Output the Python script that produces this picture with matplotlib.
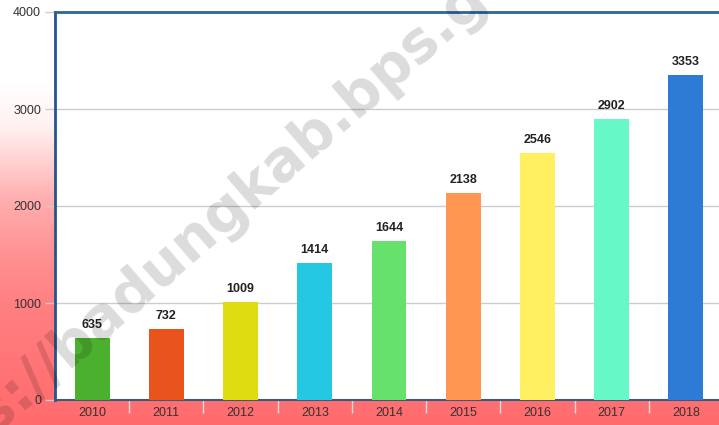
import numpy as np
import matplotlib
matplotlib.use("Agg")
import matplotlib.pyplot as plt

years = ["2010", "2011", "2012", "2013", "2014", "2015", "2016", "2017", "2018"]
values = [635, 732, 1009, 1414, 1644, 2138, 2546, 2902, 3353]
bar_colors = ["#4cb02f", "#e8541c", "#dddd12", "#24c8e2", "#66e26c",
              "#ff9652", "#fff062", "#66f8c6", "#2e7bd6"]
yticks = [0, 1000, 2000, 3000, 4000]
watermark = "s://badungkab.bps.go.id"

W, H = 719, 425
fig = plt.figure(figsize=(W / 100, H / 100), dpi=100)
plt.rcParams['font.family'] = ['Liberation Sans', 'DejaVu Sans']

# background gradient
bg = fig.add_axes([0, 0, 1, 1])
ys = np.linspace(0, 1, 425)  # 0 top, 1 bottom
frac = np.interp(ys, [0.0, 0.2, 0.3, 0.47, 0.6, 0.72, 0.9, 1.0],
                 [0.0, 0.0, 0.1, 0.55, 0.75, 0.87, 0.96, 1.0])
top = np.array([1.0, 1.0, 1.0])
bot = np.array([255, 108, 110]) / 255
img = top[None, :] * (1 - frac[:, None]) + bot[None, :] * frac[:, None]
img = np.repeat(img[:, None, :], 2, axis=1)
bg.imshow(img, aspect='auto', extent=[0, 1, 0, 1], origin='upper')
bg.set_axis_off()

# plot area in pixel coords
left, right, topp, bottom = 55, 723, 12, 400
ax = fig.add_axes([left / W, (H - bottom) / H, (right - left) / W, (bottom - topp) / H])
ax.set_facecolor("white")
x = np.arange(len(years))
ax.bar(x, values, width=0.47, color=bar_colors, zorder=3)
ax.set_xlim(-0.5, len(years) - 0.5)
ax.set_ylim(0, 4000)
ax.set_yticks(yticks)
ax.set_yticklabels([str(v) for v in yticks], fontsize=9, color="#333333")
ax.set_xticks(x)
ax.set_xticklabels(years, fontsize=9, color="#333333")
ax.set_xticks(np.arange(0.5, len(years) - 0.5, 1), minor=True)
ax.tick_params(axis='x', which='major', length=0, pad=5)
ax.tick_params(axis='x', which='minor', length=9, color="#dddddd", width=1)
ax.tick_params(axis='y', length=7, color="#cccccc", width=1, pad=3)
ax.grid(axis='y', color="#cccccc", linewidth=1, zorder=0)
ax.spines["right"].set_visible(False)
ax.spines["left"].set_color("#24538f")
ax.spines["left"].set_linewidth(2)
ax.spines["top"].set_color("#2b6699")
ax.spines["top"].set_linewidth(2)
ax.spines["bottom"].set_color("#3a5a7a")
ax.spines["bottom"].set_linewidth(1.5)

for xi, v in zip(x, values):
    ax.annotate(str(v), (xi, v), xytext=(0, 5), textcoords="offset points",
                ha='center', va='bottom', fontsize=9, fontweight='bold',
                color="#222222", zorder=5)

# watermark
fig.text(-6 / W, (H - 434) / H, watermark, rotation=41, rotation_mode='anchor',
         ha='left', va='baseline', fontsize=41, fontweight='bold',
         color='black', alpha=0.14, family='DejaVu Sans', zorder=10)

fig.savefig("out.png", dpi=100)
